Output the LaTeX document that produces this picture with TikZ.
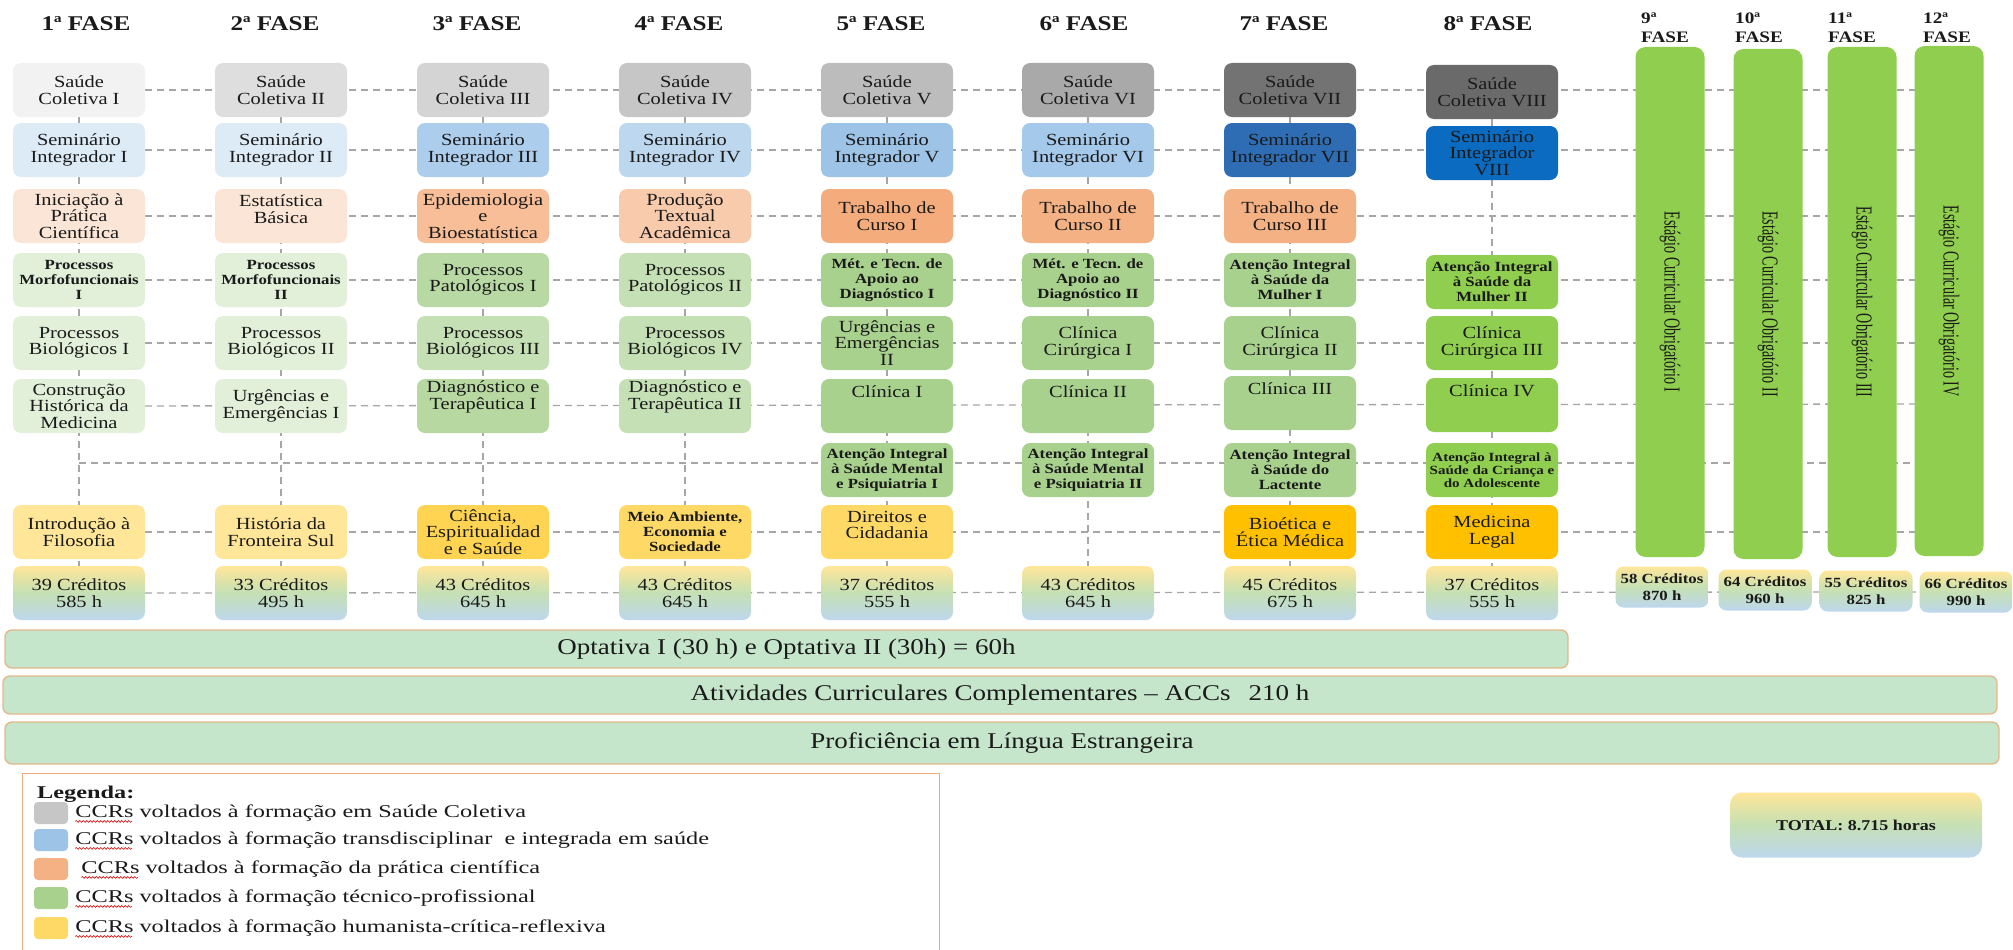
\documentclass[tikz,border=0pt]{standalone}
\usepackage{graphicx}
\usepackage{fontspec}
\setmainfont{Liberation Serif}[FakeStretch=1.2]
\newfontfamily\legfont{Liberation Serif}[FakeStretch=1.35]
\newfontfamily\plainfont{Liberation Serif}
\usepackage{tikz}
\usetikzlibrary{positioning, backgrounds, decorations.pathmorphing}

\definecolor{txt}{HTML}{1A1A1A}
\definecolor{dashc}{HTML}{A6A6A6}
% saude coletiva
\definecolor{sc1}{HTML}{F2F2F2}
\definecolor{sc2}{HTML}{DEDEDE}
\definecolor{sc3}{HTML}{D4D4D4}
\definecolor{sc4}{HTML}{C6C6C6}
\definecolor{sc5}{HTML}{BCBCBC}
\definecolor{sc6}{HTML}{A9A9A9}
\definecolor{sc7}{HTML}{737373}
\definecolor{sc8}{HTML}{6A6A6A}
% seminario integrador
\definecolor{si1}{HTML}{DDEBF7}
\definecolor{si3}{HTML}{ADCDEC}
\definecolor{si4}{HTML}{BDD7EE}
\definecolor{si5}{HTML}{9DC3E6}
\definecolor{si6}{HTML}{A5C9EA}
\definecolor{si7}{HTML}{2E6DB4}
\definecolor{si8}{HTML}{0B6BC0}
% pratica cientifica
\definecolor{pc1}{HTML}{FBE5D6}
\definecolor{pc3}{HTML}{F7BE98}
\definecolor{pc4}{HTML}{F8CBAD}
\definecolor{pc5}{HTML}{F4AC7D}
\definecolor{pc6}{HTML}{F4B183}
% tecnico-profissional
\definecolor{tpa}{HTML}{E2F0D9}
\definecolor{tpb}{HTML}{C5E0B4}
\definecolor{tpc}{HTML}{A9D18E}
\definecolor{tpd}{HTML}{8FCE4E}
% humanista
\definecolor{hca}{HTML}{FFE699}
\definecolor{hcb}{HTML}{FFD966}
\definecolor{hcc}{HTML}{FFC000}
% creditos
\definecolor{gam}{HTML}{FFE699}
\definecolor{gve}{HTML}{C5E0B4}
\definecolor{gaz}{HTML}{BDD7EE}
\definecolor{menta}{HTML}{C6E6CC}
\definecolor{faixaborda}{HTML}{E2B98D}
\definecolor{legborda}{HTML}{EBAA7E}

\begin{document}
\begin{tikzpicture}[x=1pt, y=-1pt,
    ccr/.style={fill=#1, rounded corners=8pt, minimum width=132pt, minimum height=54pt, inner sep=1pt, align=center, text=txt, font=\fontsize{17}{16.5}\selectfont},
    ccrs/.style={ccr=#1, font=\bfseries\fontsize{14}{15}\selectfont},
    lift/.style={text depth=#1},
    cred/.style={rounded corners=8pt, minimum width=132pt, minimum height=54pt, inner sep=1pt, align=center, text=txt, font=\fontsize{17}{17.5}\selectfont, top color=gam, bottom color=gaz, middle color=gve},
    credp/.style={cred, minimum width=93pt, minimum height=41pt, font=\bfseries\fontsize{14}{17}\selectfont},
    fase/.style={inner sep=0pt, text=txt, font=\bfseries\fontsize{21}{21}\selectfont},
    faseb/.style={inner sep=0pt, anchor=north west, align=left, text=txt, font=\bfseries\fontsize{16}{19}\selectfont},
    estagio/.style={fill=tpd, rounded corners=10pt, minimum width=69pt, minimum height=510pt, inner sep=0pt, text=txt},
    faixa/.style={fill=menta, draw=faixaborda, line width=1.4pt, rounded corners=7pt, inner sep=0pt, text=txt, font=\fontsize{22.5}{22.5}\selectfont},
    grade/.style={draw=dashc, line width=1.3pt, dash pattern=on 7pt off 5pt},
    amostra/.style={fill=#1, rounded corners=4pt, minimum width=34pt, minimum height=22pt, inner sep=0pt},
    legtxt/.style={inner sep=0pt, text=txt, font=\legfont\fontsize{18}{18}\selectfont},
    ondas/.style={draw=red!80!black, line width=0.6pt, decorate, decoration={snake, amplitude=0.9pt, segment length=3.5pt}}]
\useasboundingbox (0,0) rectangle (2013,950);
\clip (0,0) rectangle (2013,950);

% 1a fase
\node (c1r1) [ccr=sc1] at (79,90) {Saúde\\Coletiva I};
\node (c1r2) [ccr=si1] at (79,150) {Seminário\\Integrador I};
\node (c1r3) [ccr=pc1] at (79,216) {Iniciação à\\Prática\\Científica};
\node (c1r4) [ccrs=tpa] at (79,280) {Processos\\Morfofuncionais\\I};
\node (c1r5) [ccr=tpa] at (79,343) {Processos\\Biológicos I};
\node (c1r6) [ccr=tpa] at (79,406) {Construção\\Histórica da\\Medicina};
\coordinate (c1r7) at (79,463);
\node (c1r8) [ccr=hca] at (79,532) {Introdução à\\Filosofia};
\node (c1r9) [cred] at (79,593) {39 Créditos\\585 h};

% 2a fase
\node (c2r1) [ccr=sc2] at (281,90) {Saúde\\Coletiva II};
\node (c2r2) [ccr=si1] at (281,150) {Seminário\\Integrador II};
\node (c2r3) [ccr=pc1, lift=14pt] at (281,216) {Estatística\\Básica};
\node (c2r4) [ccrs=tpa] at (281,280) {Processos\\Morfofuncionais\\II};
\node (c2r5) [ccr=tpa] at (281,343) {Processos\\Biológicos II};
\node (c2r6) [ccr=tpa] at (281,406) {Urgências e\\Emergências I};
\node (c2r8) [ccr=hca] at (281,532) {História da\\Fronteira Sul};
\node (c2r9) [cred] at (281,593) {33 Créditos\\495 h};

% 3a fase
\node (c3r1) [ccr=sc3] at (483,90) {Saúde\\Coletiva III};
\node (c3r2) [ccr=si3] at (483,150) {Seminário\\Integrador III};
\node (c3r3) [ccr=pc3] at (483,216) {Epidemiologia\\e\\Bioestatística};
\node (c3r4) [ccr=tpb!55!tpc] at (483,280) {Processos\\Patológicos I};
\node (c3r5) [ccr=tpb] at (483,343) {Processos\\Biológicos III};
\node (c3r6) [ccr=tpb!50!tpc, lift=22pt] at (483,406) {Diagnóstico e\\Terapêutica I};
\node (c3r8) [ccr=hcb!80!hcc] at (483,532) {Ciência,\\Espiritualidad\\e e Saúde};
\node (c3r9) [cred] at (483,593) {43 Créditos\\645 h};

% 4a fase
\node (c4r1) [ccr=sc4] at (685,90) {Saúde\\Coletiva IV};
\node (c4r2) [ccr=si4] at (685,150) {Seminário\\Integrador IV};
\node (c4r3) [ccr=pc4] at (685,216) {Produção\\Textual\\Acadêmica};
\node (c4r4) [ccr=tpb] at (685,280) {Processos\\Patológicos II};
\node (c4r5) [ccr=tpb] at (685,343) {Processos\\Biológicos IV};
\node (c4r6) [ccr=tpb, lift=22pt] at (685,406) {Diagnóstico e\\Terapêutica II};
\node (c4r8) [ccrs=hcb] at (685,532) {Meio Ambiente,\\Economia e\\Sociedade};
\node (c4r9) [cred] at (685,593) {43 Créditos\\645 h};

% 5a fase
\node (c5r1) [ccr=sc5] at (887,90) {Saúde\\Coletiva V};
\node (c5r2) [ccr=si5] at (887,150) {Seminário\\Integrador V};
\node (c5r3) [ccr=pc5] at (887,216) {Trabalho de\\Curso I};
\node (c5r4) [ccrs=tpc] at (887,280) {Mét. e Tecn. de\\Apoio ao\\Diagnóstico I};
\node (c5r5) [ccr=tpc] at (887,343) {Urgências e\\Emergências\\II};
\node (c5r6) [ccr=tpc, lift=28pt] at (887,406) {Clínica I};
\node (c5r7) [ccrs=tpc] at (887,470) {Atenção Integral\\à Saúde Mental\\e Psiquiatria I};
\node (c5r8) [ccr=hcb, lift=14pt] at (887,532) {Direitos e\\Cidadania};
\node (c5r9) [cred] at (887,593) {37 Créditos\\555 h};

% 6a fase
\node (c6r1) [ccr=sc6] at (1088,90) {Saúde\\Coletiva VI};
\node (c6r2) [ccr=si6] at (1088,150) {Seminário\\Integrador VI};
\node (c6r3) [ccr=pc6] at (1088,216) {Trabalho de\\Curso II};
\node (c6r4) [ccrs=tpc] at (1088,280) {Mét. e Tecn. de\\Apoio ao\\Diagnóstico II};
\node (c6r5) [ccr=tpc] at (1088,343) {Clínica\\Cirúrgica I};
\node (c6r6) [ccr=tpc, lift=28pt] at (1088,406) {Clínica II};
\node (c6r7) [ccrs=tpc] at (1088,470) {Atenção Integral\\à Saúde Mental\\e Psiquiatria II};
\node (c6r9) [cred] at (1088,593) {43 Créditos\\645 h};

% 7a fase
\node (c7r1) [ccr=sc7] at (1290,90) {Saúde\\Coletiva VII};
\node (c7r2) [ccr=si7] at (1290,150) {Seminário\\Integrador VII};
\node (c7r3) [ccr=pc6] at (1290,216) {Trabalho de\\Curso III};
\node (c7r4) [ccrs=tpc] at (1290,280) {Atenção Integral\\à Saúde da\\Mulher I};
\node (c7r5) [ccr=tpc] at (1290,343) {Clínica\\Cirúrgica II};
\node (c7r6) [ccr=tpc, lift=28pt] at (1290,403) {Clínica III};
\node (c7r7) [ccrs=tpc] at (1290,470) {Atenção Integral\\à Saúde do\\Lactente};
\node (c7r8) [ccr=hcc] at (1290,532) {Bioética e\\Ética Médica};
\node (c7r9) [cred] at (1290,593) {45 Créditos\\675 h};

% 8a fase
\node (c8r1) [ccr=sc8] at (1492,92) {Saúde\\Coletiva VIII};
\node (c8r2) [ccr=si8] at (1492,153) {Seminário\\Integrador\\VIII};
\node (c8r4) [ccrs=tpd] at (1492,282) {Atenção Integral\\à Saúde da\\Mulher II};
\node (c8r5) [ccr=tpd] at (1492,343) {Clínica\\Cirúrgica III};
\node (c8r6) [ccr=tpd, lift=28pt] at (1492,405) {Clínica IV};
\node (c8r7) [ccr=tpd, font=\bfseries\fontsize{12.5}{13}\selectfont] at (1492,470) {Atenção Integral à\\Saúde da Criança e\\do Adolescente};
\node (c8r8) [ccr=hcc] at (1492,532) {Medicina\\Legal};
\node (c8r9) [cred] at (1492,593) {37 Créditos\\555 h};

% estagios
\node (est9) [estagio] at (1670,302) {\rotatebox{-90}{\scalebox{0.74}[1.2]{\plainfont\fontsize{19}{19}\selectfont Estágio Curricular Obrigatório I}}};
\node (est10) [estagio] at (1768,304) {\rotatebox{-90}{\scalebox{0.74}[1.2]{\plainfont\fontsize{19}{19}\selectfont Estágio Curricular Obrigatório II}}};
\node (est11) [estagio] at (1862,302) {\rotatebox{-90}{\scalebox{0.74}[1.2]{\plainfont\fontsize{19}{19}\selectfont Estágio Curricular Obrigatório III}}};
\node (est12) [estagio] at (1949,301) {\rotatebox{-90}{\scalebox{0.74}[1.2]{\plainfont\fontsize{19}{19}\selectfont Estágio Curricular Obrigatório IV}}};
\node (cr9) [credp] at (1662,587) {58 Créditos\\870 h};
\node (cr10) [credp] at (1765,590) {64 Créditos\\960 h};
\node (cr11) [credp] at (1866,591) {55 Créditos\\825 h};
\node (cr12) [credp] at (1966,592) {66 Créditos\\990 h};

% fases
\node (f1) [fase, above=32pt of c1r1, xshift=7pt] {1ª FASE};
\node (f2) [fase, above=32pt of c2r1, xshift=-6pt] {2ª FASE};
\node (f3) [fase, above=32pt of c3r1, xshift=-6pt] {3ª FASE};
\node (f4) [fase, above=32pt of c4r1, xshift=-6pt] {4ª FASE};
\node (f5) [fase, above=32pt of c5r1, xshift=-6pt] {5ª FASE};
\node (f6) [fase, above=32pt of c6r1, xshift=-4pt] {6ª FASE};
\node (f7) [fase, above=32pt of c7r1, xshift=-6pt] {7ª FASE};
\node (f8) [fase, above=34pt of c8r1, xshift=-4pt] {8ª FASE};
\node (f9) [faseb] at (1641,13) {9ª\\FASE};
\node (f10) [faseb] at (1735,13) {10ª\\FASE};
\node (f11) [faseb] at (1828,13) {11ª\\FASE};
\node (f12) [faseb] at (1923,13) {12ª\\FASE};

% pontas das linhas
\coordinate (fim1) at (1949,90);
\coordinate (fim2) at (1949,150);
\coordinate (fim3) at (1949,216);
\coordinate (fim4) at (1949,280);
\coordinate (fim5) at (1949,343);
\coordinate (fim6) at (1949,404);
\coordinate (fim7) at (1949,463);
\coordinate (fim8) at (1949,532);

\begin{scope}[on background layer]
\draw[grade] (c1r1) -- (fim1);
\draw[grade] (c1r2) -- (fim2);
\draw[grade] (c1r3) -- (fim3);
\draw[grade] (c1r4) -- (fim4);
\draw[grade] (c1r5) -- (fim5);
\draw[grade] (c1r6) -- (fim6);
\draw[grade] (c1r7) -- (fim7);
\draw[grade] (c1r8) -- (fim8);
\draw[grade] (c1r9) -- (cr12);
\draw[grade] (c1r1) -- (c1r9);
\draw[grade] (c2r1) -- (c2r9);
\draw[grade] (c3r1) -- (c3r9);
\draw[grade] (c4r1) -- (c4r9);
\draw[grade] (c5r1) -- (c5r9);
\draw[grade] (c6r1) -- (c6r9);
\draw[grade] (c7r1) -- (c7r9);
\draw[grade] (c8r1) -- (c8r9);
\end{scope}

% faixas
\node (opt) [faixa, minimum width=1563pt, minimum height=38pt] at (786.5,649) {Optativa I (30 h) e Optativa II (30h) = 60h};
\node (acc) [faixa, minimum width=1994pt, minimum height=38pt] at (1000,695) {Atividades Curriculares Complementares – ACCs\hspace{0.8em}210 h};
\node (prof) [faixa, minimum width=1994pt, minimum height=42pt] at (1002,743) {Proficiência em Língua Estrangeira};
\node (total) [cred, minimum width=252pt, minimum height=65pt, rounded corners=12pt, font=\bfseries\fontsize{15}{15}\selectfont] at (1856,825) {TOTAL: 8.715 horas};

% legenda
\node (leg) [draw=legborda, line width=1.4pt, minimum width=917pt, minimum height=200pt, inner sep=0pt, anchor=north west] at (22,773) {};
\node (legtit) [legtxt, anchor=base west, font=\legfont\bfseries\fontsize{18}{18}\selectfont] at (37,798) {Legenda:};
\node (sw1) [amostra=sc4] at (51,813) {};
\node (sw2) [amostra=si5] at (51,840) {};
\node (sw3) [amostra=pc6] at (51,869) {};
\node (sw4) [amostra=tpc] at (51,898) {};
\node (sw5) [amostra=hcb] at (51,928) {};
\node (lt1) [legtxt, right=7pt of sw1] {CCRs voltados à formação em Saúde Coletiva};
\node (lt2) [legtxt, right=7pt of sw2] {CCRs voltados à formação transdisciplinar\ \ e integrada em saúde};
\node (lt3) [legtxt, right=13pt of sw3] {CCRs voltados à formação da prática científica};
\node (lt4) [legtxt, right=7pt of sw4] {CCRs voltados à formação técnico-profissional};
\node (lt5) [legtxt, right=7pt of sw5] {CCRs voltados à formação humanista-crítica-reflexiva};
\draw[ondas] ([yshift=-4pt]lt1.base west) -- ++(57,0);
\draw[ondas] ([yshift=-4pt]lt2.base west) -- ++(57,0);
\draw[ondas] ([yshift=-4pt]lt3.base west) -- ++(57,0);
\draw[ondas] ([yshift=-4pt]lt4.base west) -- ++(57,0);
\draw[ondas] ([yshift=-4pt]lt5.base west) -- ++(57,0);
\end{tikzpicture}
\end{document}
